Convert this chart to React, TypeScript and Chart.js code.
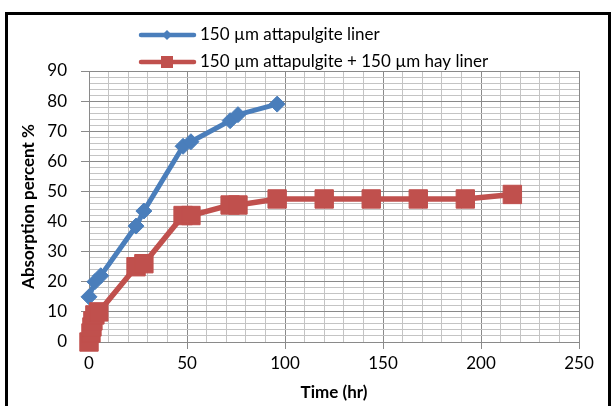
import React, { useEffect, useRef } from "react";
import { Chart, registerables } from "chart.js";

Chart.register(...registerables);

const seriesNames = ["150 µm attapulgite liner", "150 µm attapulgite + 150 µm hay liner"];
const blueHours = [0, 3, 6, 24, 28, 48, 52, 72, 76, 96];
const blueValues = [15, 20, 22, 38.5, 43.5, 65, 66.5, 73.5, 75.5, 79];
const redHours = [0, 1, 1.5, 2, 3, 5, 24, 28, 48, 52, 72, 76, 96, 120, 144, 168, 192, 216];
const redValues = [0, 3, 5, 7, 9, 10, 25, 26, 42, 42, 45.5, 45.5, 47.5, 47.5, 47.5, 47.5, 47.5, 49];
const xTitle = "Time (hr)";
const yTitle = "Absorption percent %";

const BLUE = "#4a7ebb";
const RED = "#c0504d";
const FONT = "Lato, 'Open Sans', sans-serif";

const frameAndLegend = {
  id: "frameAndLegend",
  afterDraw(chart: any) {
    const ctx = chart.ctx;
    ctx.save();
    ctx.strokeStyle = "#000";
    ctx.lineWidth = 3;
    ctx.strokeRect(6.5, 13.5, 603, 420);
    const rows = [
      { y: 35, color: BLUE, style: "rectRot", r: 5, text: seriesNames[0] },
      { y: 62, color: RED, style: "rect", r: 8.5, text: seriesNames[1] },
    ];
    rows.forEach((row) => {
      ctx.strokeStyle = row.color;
      ctx.lineWidth = 4.5;
      ctx.lineCap = "round";
      ctx.beginPath();
      ctx.moveTo(141, row.y);
      ctx.lineTo(194, row.y);
      ctx.stroke();
      ctx.fillStyle = row.color;
      ctx.beginPath();
      if (row.style === "rect") {
        const s = row.r * Math.SQRT1_2;
        ctx.rect(167 - s, row.y - s, 2 * s, 2 * s);
      } else {
        ctx.moveTo(167 - row.r, row.y);
        ctx.lineTo(167, row.y - row.r);
        ctx.lineTo(167 + row.r, row.y);
        ctx.lineTo(167, row.y + row.r);
        ctx.closePath();
      }
      ctx.fill();
      ctx.fillStyle = "#000";
      ctx.font = "17px " + FONT;
      ctx.textBaseline = "middle";
      ctx.textAlign = "left";
      ctx.fillText(row.text, 200, row.y);
    });
    ctx.restore();
  },
};

export default function App() {
  const ref = useRef<HTMLCanvasElement>(null);
  useEffect(() => {
    if (!ref.current) return;
    const chart = new Chart(ref.current, {
      type: "line",
      data: {
        datasets: [
          {
            label: seriesNames[0],
            data: blueHours.map((h, i) => ({ x: h, y: blueValues[i] })),
            borderColor: BLUE,
            backgroundColor: BLUE,
            borderWidth: 5,
            pointStyle: "rectRot",
            pointRadius: 8,
            pointBorderWidth: 1,
            pointBorderColor: BLUE,
            clip: false,
            order: 1,
          },
          {
            label: seriesNames[1],
            data: redHours.map((h, i) => ({ x: h, y: redValues[i] })),
            borderColor: RED,
            backgroundColor: RED,
            borderWidth: 5.5,
            pointStyle: "rect",
            pointRadius: 13,
            pointBorderWidth: 1,
            pointBorderColor: RED,
            clip: false,
            order: 0,
          },
        ],
      },
      options: {
        responsive: false,
        animation: false,
        devicePixelRatio: 1,
        layout: { padding: { left: 0, right: 34, top: 71, bottom: 0 } },
        plugins: { legend: { display: false }, tooltip: { enabled: false } },
        scales: {
          x: {
            type: "linear",
            min: 0,
            max: 250,
            afterFit: (s: any) => { s.height = 64; },
            ticks: {
              stepSize: 10,
              autoSkip: false,
              maxRotation: 0,
              padding: 4,
              color: "#000",
              font: { family: FONT, size: 17 },
              callback: (v: any) => (v % 50 === 0 ? String(v) : ""),
            },
            grid: {
              color: (c: any) => (c.tick && c.tick.value % 50 === 0 ? "#8a8a8a" : "#c4c4c4"),
              tickColor: (c: any) => (c.tick && c.tick.value % 50 === 0 ? "#8a8a8a" : "rgba(0,0,0,0)"),
              tickLength: 7,
              lineWidth: 1,
            },
            border: { color: "#8a8a8a", width: 1 },
            title: {
              display: true,
              text: xTitle,
              color: "#000",
              font: { family: FONT, size: 17, weight: "bold" },
              padding: { top: 0, bottom: 3 },
            },
          },
          y: {
            type: "linear",
            min: 0,
            max: 90,
            afterFit: (s: any) => { s.width = 89; },
            ticks: {
              stepSize: 2,
              autoSkip: false,
              padding: 14,
              color: "#000",
              font: { family: FONT, size: 17 },
              callback: (v: any) => (v % 10 === 0 ? String(v) : ""),
            },
            grid: {
              color: (c: any) => (c.tick && c.tick.value % 10 === 0 ? "#8a8a8a" : "#c4c4c4"),
              tickColor: (c: any) => (c.tick && c.tick.value % 10 === 0 ? "#8a8a8a" : "rgba(0,0,0,0)"),
              tickLength: 8,
              lineWidth: 1,
            },
            border: { color: "#8a8a8a", width: 1 },
            title: {
              display: true,
              text: yTitle,
              color: "#000",
              font: { family: FONT, size: 17, weight: "bold" },
              padding: { top: 18, bottom: 0 },
            },
          },
        },
      },
      plugins: [frameAndLegend],
    } as any);
    return () => chart.destroy();
  }, []);
  return (
    <div style={{ position: "fixed", left: 0, top: 0, width: 613, height: 406, background: "#fff" }}>
      <canvas ref={ref} width={613} height={406} style={{ display: "block" }} />
    </div>
  );
}
